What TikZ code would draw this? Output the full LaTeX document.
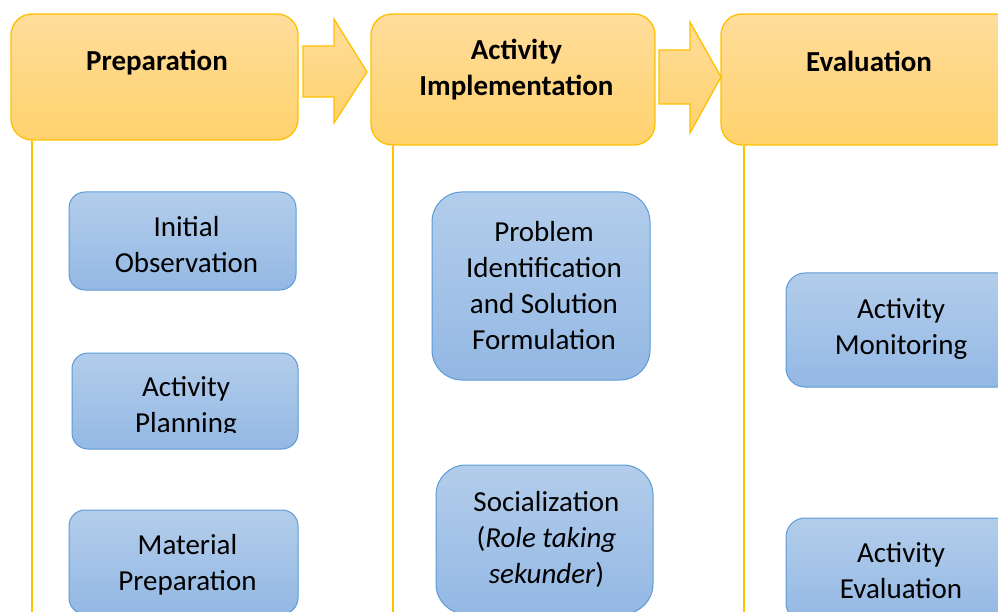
\documentclass[tikz,border=0pt]{standalone}
\usepackage{fontspec}
\setmainfont{Carlito}
\usepackage{tikz}
\usetikzlibrary{calc,positioning}
\definecolor{headtop}{HTML}{FFDD9B}
\definecolor{headbot}{HTML}{FFD26D}
\definecolor{gold}{HTML}{FFC000}
\definecolor{bluetop}{HTML}{B3CDEB}
\definecolor{bluebot}{HTML}{93B8E4}
\definecolor{blueline}{HTML}{5B9BD5}
\tikzset{
         headbox/.style=
          {
           draw=gold,line width=1.3pt,top color=headtop,bottom color=headbot,
           rounded corners=21pt,inner sep=0pt
          },
         headtext/.style=
          {
           font=\fontsize{29}{36}\selectfont\bfseries,align=center,inner sep=0pt
          },
         bluebox/.style=
          {
           draw=blueline,line width=1pt,top color=bluetop,bottom color=bluebot,
           rounded corners=16pt,inner sep=0pt
          },
         bluetext/.style=
          {
           font=\fontsize{29}{36}\selectfont,align=center,inner sep=0pt
          },
         goldline/.style={draw=gold,line width=2pt},
         goldarrow/.style={draw=gold,line width=1.3pt,top color=headtop,bottom color=headbot}
        }

\begin{document}
\begin{tikzpicture}[x=1pt,y=-1pt]
      \useasboundingbox (0,0) rectangle (998,612); % page
      \clip (0,0) rectangle (998,612); % cut off at the edges
      \coordinate (bottom) at (0,612); % lower edge
      % header boxes
      \node[headbox,minimum width=287pt,minimum height=126pt] (prep) at (154.5,77) {}; % Preparation box
      \node[headbox,minimum width=284pt,minimum height=131pt] (impl) at (513,79.5) {}; % Implementation box
      \node[headbox,minimum width=296pt,minimum height=131pt] (eval) at (869,79.5) {}; % Evaluation box
      \node[headtext] (preptext) at (157,63) {Preparation}; % Preparation label
      \node[headtext] (impltext) at (516.5,70) {Activity\\Implementation}; % Implementation label
      \node[headtext] (evaltext) at (869,61.5) {Evaluation}; % Evaluation label
      % block arrows
      \draw[goldarrow] (303,46) -- (334,46) -- (334,19) -- (367,72) -- (334,123) -- (334,97) -- (303,97) -- cycle; % first arrow
      \draw[goldarrow] (659,50) -- (690,50) -- (690,22) -- (721,77) -- (690,133) -- (690,104) -- (659,104) -- cycle; % second arrow
      % vertical lines
      \coordinate (prepline) at ([xshift=22pt]prep.south west); % start of line
      \coordinate (implline) at ([xshift=23pt]impl.south west); % start of line
      \coordinate (evalline) at ([xshift=24pt]eval.south west); % start of line
      \draw[goldline] (prepline) -- (prepline |- bottom); % Preparation line
      \draw[goldline] (implline) -- (implline |- bottom); % Implementation line
      \draw[goldline] (evalline) -- (evalline |- bottom); % Evaluation line
      % Preparation steps
      \node[bluebox,minimum width=227pt,minimum height=98pt] (obs) at (182.5,241) {}; % observation box
      \node[bluetext] (obstext) at ([xshift=4pt,yshift=-4pt]obs.center) {Initial\\Observation}; % observation label
      \node[bluebox,minimum width=226pt,minimum height=96pt] (plan) at (185,401) {}; % planning box
      \begin{scope}
      \clip (plan.north west) rectangle ([yshift=17pt]plan.south east); % text cut at baseline
      \node[bluetext] (plantext) at ([xshift=1pt,yshift=-5.5pt]plan.center) {Activity\\Planning}; % planning label
      \end{scope}
      \node[bluebox,minimum width=229pt,minimum height=104pt] (mat) at (183.5,562) {}; % material box
      \node[bluetext] (mattext) at ([xshift=4pt,yshift=-3pt]mat.center) {Material\\Preparation}; % material label
      % Implementation steps
      \node[bluebox,rounded corners=30pt,minimum width=218pt,minimum height=188pt] (prob) at (541,286) {}; % problem box
      \node[bluetext] (probtext) at ([xshift=3pt,yshift=0.5pt]prob.center) {Problem\\Identification\\and Solution\\Formulation}; % problem label
      \node[bluebox,rounded corners=30pt,minimum width=217pt,minimum height=149pt] (soc) at (544.5,539.5) {}; % socialization box
      \node[bluetext] (soctext) at ([xshift=2pt]soc.center) {Socialization\\(\textit{Role taking}\\\textit{sekunder})}; % socialization label
      % Evaluation steps
      \node[bluebox,rounded corners=19pt,minimum width=230pt,minimum height=114pt] (mon) at (901,330) {}; % monitoring box
      \node[bluetext] (montext) at ([yshift=1pt]mon.center) {Activity\\Monitoring}; % monitoring label
      \node[bluebox,rounded corners=19pt,minimum width=230pt,minimum height=104pt] (evl) at (901,570) {}; % evaluation box
      \node[bluetext] (evltext) at ([yshift=-1pt]evl.center) {Activity\\Evaluation}; % evaluation label
    \end{tikzpicture}
\end{document}
